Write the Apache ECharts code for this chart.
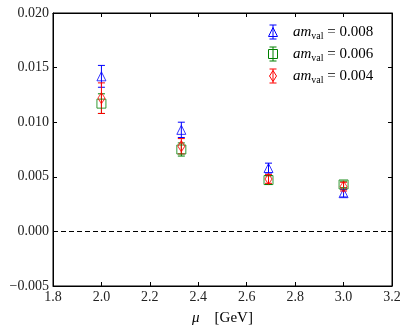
<!DOCTYPE html>
<html><head><meta charset="utf-8">
<script src="https://cdn.jsdelivr.net/npm/echarts@6/dist/echarts.min.js"></script>
<style>html,body{margin:0;padding:0;background:#fff}#c{width:407px;height:332px}</style>
</head><body><div id="c"></div>
<script>
var mu = [2.0, 2.33, 2.69, 3.0];
var val008 = [0.0142, 0.0093, 0.0058, 0.0035];
var err008 = [0.0010, 0.0007, 0.00045, 0.00035];
var val006 = [0.0117, 0.0075, 0.0047, 0.0043];
var err006 = [0.0009, 0.0006, 0.0004, 0.0003];
var val004 = [0.0122, 0.0078, 0.0048, 0.0041];
var err004 = [0.0014, 0.0007, 0.0004, 0.0004];
var legendLabels = ['0.008', '0.006', '0.004'];
var xTicks = [1.8, 3.2, 0.2];
var yTicks = [-0.005, 0.020, 0.005];

var FONT = 'Liberation Serif';
var colors = ['#0000ff', '#008000', '#ff0000'];
var symbols = ['triangle', 'rect', 'diamond'];
var symSizes = [[9, 9], [9, 9], [7, 11]];
var vals = [val008, val006, val004];
var errs = [err008, err006, err004];

function errSeries(v, e, color) {
  return {
    type: 'custom', silent: true, z: 3,
    data: mu.map(function (m, i) { return [m, v[i], e[i]]; }),
    renderItem: function (params, api) {
      var x = api.value(0), y = api.value(1), d = api.value(2);
      var top = api.coord([x, y + d]);
      var bot = api.coord([x, y - d]);
      var cw = 3.5;
      var st = { stroke: color, lineWidth: 1 };
      return { type: 'group', children: [
        { type: 'line', shape: { x1: top[0], y1: top[1], x2: bot[0], y2: bot[1] }, style: st },
        { type: 'line', shape: { x1: top[0] - cw, y1: top[1], x2: top[0] + cw, y2: top[1] }, style: st },
        { type: 'line', shape: { x1: bot[0] - cw, y1: bot[1], x2: bot[0] + cw, y2: bot[1] }, style: st }
      ]};
    }
  };
}

var series = [];
for (var k = 0; k < 3; k++) {
  series.push(errSeries(vals[k], errs[k], colors[k]));
  series.push({
    type: 'scatter', z: 4,
    symbol: symbols[k], symbolSize: symSizes[k],
    itemStyle: { color: 'rgba(255,255,255,0)', borderColor: colors[k], borderWidth: 1 },
    data: mu.map(function (m, i) { return [m, vals[k][i]]; })
  });
}
series.push({
  type: 'line', data: [],
  markLine: { silent: true, symbol: 'none', label: { show: false },
    lineStyle: { color: '#000', type: [5, 3], width: 1 },
    data: [{ yAxis: 0 }] }
});

var legendGraphics = [];
var rowY = [32, 54, 76];
for (var r = 0; r < 3; r++) {
  var cx = 273, cy = rowY[r], col = colors[r];
  var sw = symSizes[r][0], sh = symSizes[r][1];
  var shape;
  if (r === 0) shape = { type: 'polygon', shape: { points: [[cx, cy - sh/2], [cx + sw/2, cy + sh/2], [cx - sw/2, cy + sh/2]] } };
  else if (r === 1) shape = { type: 'rect', shape: { x: cx - sw/2, y: cy - sh/2, width: sw, height: sh } };
  else shape = { type: 'polygon', shape: { points: [[cx, cy - sh/2], [cx + sw/2, cy], [cx, cy + sh/2], [cx - sw/2, cy]] } };
  shape.style = { fill: 'none', stroke: col, lineWidth: 1 };
  var eh = 7;
  legendGraphics.push({ type: 'line', shape: { x1: cx, y1: cy - eh, x2: cx, y2: cy + eh }, style: { stroke: col, lineWidth: 1 } });
  legendGraphics.push({ type: 'line', shape: { x1: cx - 3.5, y1: cy - eh, x2: cx + 3.5, y2: cy - eh }, style: { stroke: col, lineWidth: 1 } });
  legendGraphics.push({ type: 'line', shape: { x1: cx - 3.5, y1: cy + eh, x2: cx + 3.5, y2: cy + eh }, style: { stroke: col, lineWidth: 1 } });
  legendGraphics.push(shape);
  legendGraphics.push({
    type: 'text', x: 293, y: cy, style: {
      text: '{i|am}{s|val}{n| = ' + legendLabels[r] + '}',
      verticalAlign: 'middle', align: 'left',
      rich: {
        i: { fontFamily: FONT, fontStyle: 'italic', fontSize: 15, fill: '#000' },
        s: { fontFamily: FONT, fontSize: 10, fill: '#000', padding: [8, 0, 0, 0] },
        n: { fontFamily: FONT, fontSize: 15, fill: '#000' }
      }
    }
  });
}

var axisLbl = { fontFamily: FONT, fontSize: 14, color: '#222' };
var lineBase = { show: true, onZero: false, lineStyle: { color: '#000' } };
var tickBase = { inside: true, length: 4, lineStyle: { color: '#000' } };
var chart = echarts.init(document.getElementById('c'), null, { renderer: 'canvas' });
chart.setOption({
  animation: false,
  grid: { left: 53, right: 15, top: 13, bottom: 46, show: true, borderColor: '#000', borderWidth: 1 },
  xAxis: [{
    type: 'value', min: xTicks[0], max: xTicks[1], interval: xTicks[2],
    axisLine: lineBase, axisTick: tickBase, splitLine: { show: false },
    axisLabel: Object.assign({ margin: 4, formatter: function (v) { return v.toFixed(1); } }, axisLbl),
    name: '{m|μ}    [GeV]', nameLocation: 'middle', nameGap: 25,
    nameTextStyle: { fontFamily: FONT, fontSize: 15, color: '#000', rich: { m: { fontFamily: FONT, fontStyle: 'italic', fontSize: 15 } } }
  }, {
    type: 'value', position: 'top', min: xTicks[0], max: xTicks[1], interval: xTicks[2],
    axisLine: lineBase, axisTick: tickBase,
    axisLabel: { show: false }, splitLine: { show: false }
  }],
  yAxis: [{
    type: 'value', min: yTicks[0], max: yTicks[1], interval: yTicks[2],
    axisLine: lineBase, axisTick: tickBase, splitLine: { show: false },
    axisLabel: Object.assign({ margin: 4, formatter: function (v) { var s = Math.abs(v).toFixed(3); return (v < -1e-9 ? '\u2212' : '') + s; } }, axisLbl)
  }, {
    type: 'value', position: 'right', min: yTicks[0], max: yTicks[1], interval: yTicks[2],
    axisLine: lineBase, axisTick: tickBase,
    axisLabel: { show: false }, splitLine: { show: false }
  }],
  series: series,
  graphic: legendGraphics
});
</script></body></html>
